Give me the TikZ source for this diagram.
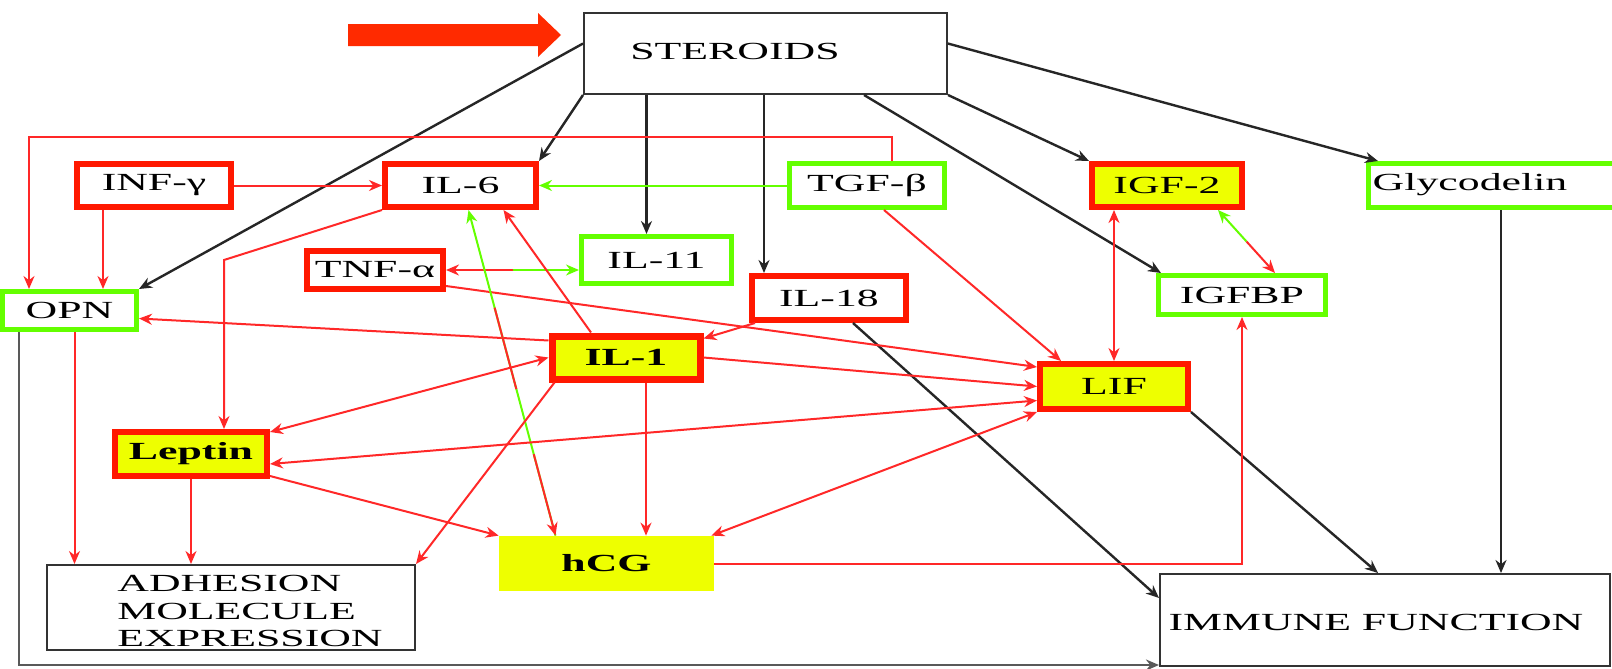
\documentclass[tikz,border=0pt]{standalone}
\usepackage{fontspec}
\setmainfont{Liberation Serif}[FakeStretch=1.78]
\usetikzlibrary{arrows.meta,calc}
\definecolor{bred}{RGB}{255,24,0}
\definecolor{bgreen}{RGB}{100,255,0}
\definecolor{byellow}{RGB}{238,255,0}
\definecolor{lred}{RGB}{255,40,40}
\definecolor{arrred}{RGB}{255,42,0}
\begin{document}
\begin{tikzpicture}[x=0.5pt,y=-0.5pt,
  font=\fontsize{12.3}{13.75}\selectfont,
  >={Stealth[length=6.5pt,width=5.5pt]},
  box/.style={inner sep=0pt, anchor=center},
  rbox/.style={box, draw=bred, line width=3pt, fill=white},
  ybox/.style={rbox, fill=byellow},
  gbox/.style={box, draw=bgreen, line width=2.5pt, fill=white},
  kbox/.style={box, draw=black!80, line width=1pt, fill=white},
  blk/.style={draw=black!85, line width=1.2pt},
  gry/.style={draw=black!65, line width=1.2pt},
  rl/.style={draw=lred, line width=1pt},
  gl/.style={draw=bgreen, line width=1pt}]
\useasboundingbox (0,0) rectangle (1612,669);
\fill[white] (0,0) rectangle (1612,669);

% boxes
\node[kbox, minimum width=181.5pt, minimum height=40.5pt] (st) at (765.5,53.5) {};
\node (stt) at (735,51) {STEROIDS};
\node[rbox, minimum width=77pt, minimum height=21.5pt] (inf) at (154,185.5) {INF-γ};
\node[rbox, minimum width=75.5pt, minimum height=21.5pt] (il6) at (460.5,185.5) {IL-6};
\node[gbox, minimum width=77.5pt, minimum height=22pt] (tgf) at (867,185.5) {TGF-β};
\node[ybox, minimum width=75pt, minimum height=21.5pt] (igf) at (1167,185.5) {IGF-2};
\node[gbox, minimum width=126.5pt, minimum height=22pt] (gly) at (1495,185.5) {};
\node (glyt) at (1470,185) {Glycodelin};
\node[rbox, minimum width=68pt, minimum height=19pt] (tnf) at (375,270) {TNF-α};
\node[gbox, minimum width=75pt, minimum height=23.5pt] (il11) at (656.5,260) {IL-11};
\node[rbox, minimum width=77pt, minimum height=22pt] (il18) at (829,298) {IL-18};
\node[gbox, minimum width=67pt, minimum height=19pt] (opn) at (69.5,310.5) {OPN};
\node[gbox, minimum width=83.5pt, minimum height=19.5pt] (igfbp) at (1242,295) {IGFBP};
\node[ybox, line width=3.5pt, minimum width=74pt, minimum height=21.5pt] (il1) at (626,357.5) {\bfseries IL-1};
\node[ybox, minimum width=74pt, minimum height=22.5pt] (lif) at (1114,386.5) {LIF};
\node[ybox, minimum width=76pt, minimum height=22pt] (lep) at (191,454) {\bfseries Leptin};
\node[box, fill=byellow, minimum width=107.5pt, minimum height=27.5pt] (hcg) at (606.5,563.5) {\bfseries hCG};
\node[kbox, minimum width=184pt, minimum height=42.5pt] (adh) at (231,607.5) {};
\node[inner sep=0pt, align=left, anchor=north west] (adht) at (117,575) {ADHESION\\MOLECULE\\EXPRESSION};
\node[kbox, minimum width=225pt, minimum height=46pt] (imm) at (1385,620) {};
\node (immt) at (1376,622) {IMMUNE FUNCTION};

% big red arrow
\fill[arrred] (348,24) -- (538,24) -- (538,13) -- (561,35) -- (538,57) -- (538,46) -- (348,46) -- cycle;

% black connectors
\draw[blk,->] ($(st.north west)!0.38!(st.south west)$) -- (opn.north east);
\draw[blk,->] (st.south west) -- (il6.north east);
\draw[blk,->] ($(st.south -| il11.north)+(-10,0)$) -- ($(il11.north)+(-10,0)$);
\draw[blk,->] ($(st.south -| il18.north)+(-65,0)$) -- ($(il18.north)+(-65,0)$);
\draw[blk,->] ($(st.south west)!0.77!(st.south east)$) -- ($(igfbp.north west)+(5,0)$);
\draw[blk,->] (st.south east) -- (igf.north west);
\draw[blk,->] ($(st.north east)!0.38!(st.south east)$) -- ($(gly.north west)+(12,0)$);
\draw[blk,->] ($(gly.south)+(6,0)$) -- ($(imm.north -| gly.south)+(6,0)$);
\draw[blk,->] ($(il18.south)+(24,0)$) -- ($(imm.north west)+(0,25)$);
\draw[blk,->] (lif.south east) -- ($(imm.north)+(-7,0)$);
\draw[gry,->] ($(opn.south west)+(19,0)$) |- ($(imm.south west)+(0,-2)$);

% red / green connectors
\draw[rl,->] ($(tgf.north)+(25,0)$) -- ++(0,-24) -| ($(opn.north west)+(29,0)$);
\draw[rl,->] (inf.east) -- (il6.west);
\draw[rl,->] ($(inf.south)+(-51,0)$) -- ($(opn.north -| inf.south)+(-51,0)$);
\draw[rl,->] (il6.south west) -- ($(lep.north)+(33,-169)$) -- ($(lep.north)+(33,0)$);
\coordinate (tm) at ($(tnf.east)!0.5!(tnf.east -| il11.west)$);
\draw[rl,<-] (tnf.east) -- (tm);
\draw[gl,->] (tm) -- (tnf.east -| il11.west);
\draw[rl,->] ($(tnf.south east)+(0,-6)$) -- ($(lif.north west)+(0,6)$);
\draw[rl,->] ($(il1.north west)+(0,8)$) -- ($(opn.east)+(0,8)$);
\draw[rl,->] ($(il1.north)+(-35,0)$) -- ($(il6.south)+(43,0)$);
\coordinate (ga) at ($(il6.south)+(8,0)$);
\coordinate (gb) at ($(hcg.north)+(-51,0)$);
\draw[gl,<-] (ga) -- (gb);
\draw[rl] ($(ga)!0.3!(gb)$) -- ($(ga)!0.55!(gb)$);
\draw[rl,->] ($(ga)!0.75!(gb)$) -- (gb);
\draw[rl,->] ($(il1.south west)+(6,0)$) -- (adh.north east);
\draw[rl,<->] (il1.west) -- ($(lep.north east)+(0,3)$);
\draw[rl,->] ($(il1.south)+(20,0)$) -- ($(hcg.north -| il1.south)+(20,0)$);
\draw[rl,->] (il1.east) -- (lif.west);
\draw[rl,->] ($(il18.south west)+(6,0)$) -- ($(il1.north east)+(0,6)$);
\draw[rl,->] ($(tgf.south)+(17,0)$) -- ($(lif.north)+(-53,0)$);
\draw[gl,->] (tgf.west) -- (il6.east);
\draw[rl,<->] (lif.north) -- (lif.north |- igf.south);
\coordinate (ia) at ($(igf.south)+(51,0)$);
\coordinate (ib) at ($(igfbp.north)+(33,0)$);
\draw[gl,<-] (ia) -- ($(ia)!0.5!(ib)$);
\draw[rl,->] ($(ia)!0.5!(ib)$) -- (ib);
\draw[rl,->] (hcg.east) -| (igfbp.south);
\draw[rl,<->] ($(lep.east)+(0,10)$) -- ($(lif.west)+(0,14)$);
\draw[rl,->] ($(lep.south east)+(0,-3)$) -- (hcg.north west);
\draw[rl,->] (lep.south) -- (lep.south |- adh.north);
\draw[rl,->] ($(opn.south)+(5,0)$) -- ($(adh.north -| opn.south)+(5,0)$);
\draw[rl,<->] ($(hcg.north east)+(-3,0)$) -- (lif.south west);
\end{tikzpicture}
\end{document}
